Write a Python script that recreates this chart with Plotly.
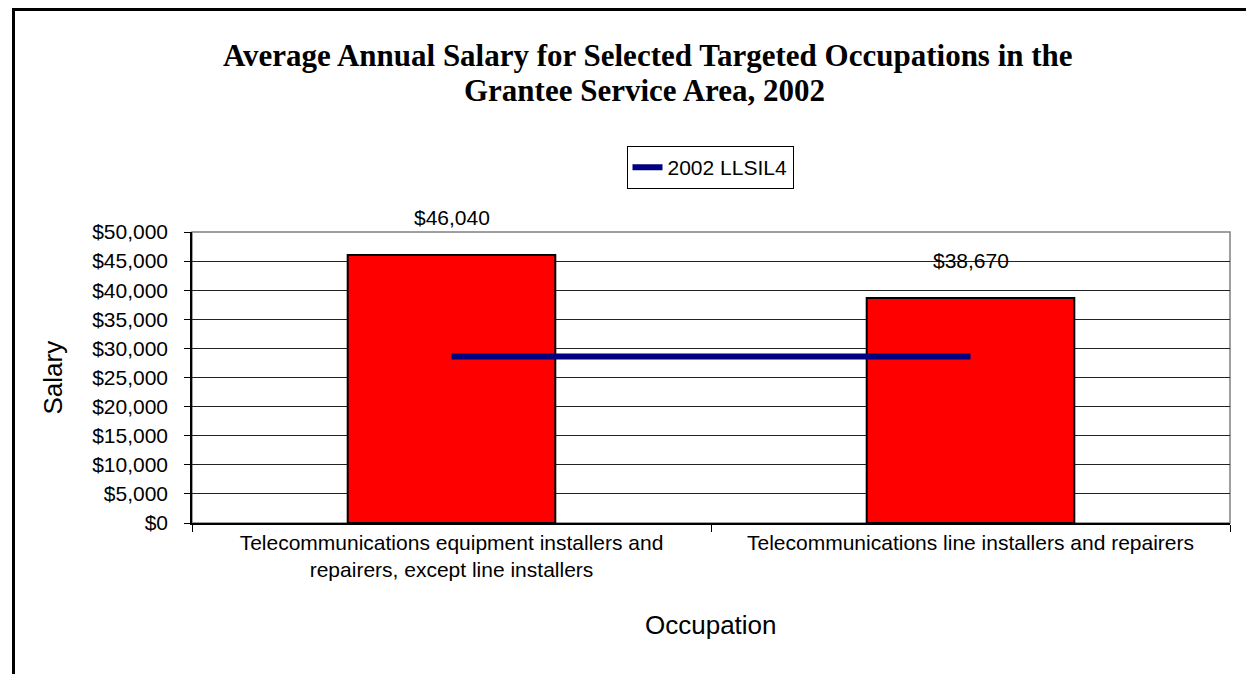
import plotly.graph_objects as go

categories = [
    "Telecommunications equipment installers and<br>repairers, except line installers",
    "Telecommunications line installers and repairers",
]
salaries = [46040, 38670]
salary_labels = ["$46,040", "$38,670"]
llsil_name = "2002 LLSIL4"
llsil_values = [28600, 28600]
y_ticks = [0, 5000, 10000, 15000, 20000, 25000, 30000, 35000, 40000, 45000, 50000]
y_tick_labels = ["$0", "$5,000", "$10,000", "$15,000", "$20,000", "$25,000",
                 "$30,000", "$35,000", "$40,000", "$45,000", "$50,000"]
title_lines = ["Average Annual Salary for Selected Targeted Occupations in the",
               "Grantee Service Area, 2002"]

OFF = 8  # page body margin
W, H = 1254 - OFF, 674 - OFF
L = 192 - OFF
T = 232 - OFF
R = W - (1230 - OFF)
B = H - (523 - OFF)
PW = W - L - R
PH = H - T - B

def px_x(p):
    return (p - OFF - L) / PW

def px_y(p):
    return (H - B - (p - OFF)) / PH

SANS = "Liberation Sans, Arial, sans-serif"
SERIF = "Liberation Serif, Times New Roman, serif"

fig = go.Figure()
fig.add_trace(go.Bar(
    x=categories, y=salaries,
    marker=dict(color="#FF0000", line=dict(color="black", width=2)),
    showlegend=False, hoverinfo="skip",
))
fig.add_trace(go.Scatter(
    x=categories, y=llsil_values, mode="lines", name=llsil_name,
    line=dict(color="#000080", width=6),
))

annotations = []
for c, v, t in zip(categories, salaries, salary_labels):
    annotations.append(dict(
        x=c, y=v, xref="x", yref="y", text=t, showarrow=False,
        yanchor="bottom", yshift=24,
        font=dict(family=SANS, size=21, color="black"),
    ))
annotations.append(dict(
    x=px_x(52), y=0.5, xref="paper", yref="paper", text="Salary",
    textangle=-90, showarrow=False, xanchor="center", yanchor="middle",
    font=dict(family=SANS, size=26, color="black"),
))
annotations.append(dict(
    x=0.5, y=px_y(625), xref="paper", yref="paper", text="Occupation",
    showarrow=False, xanchor="center", yanchor="middle",
    font=dict(family=SANS, size=26, color="black"),
))
for line_text, cx, cy in zip(title_lines, [648, 644], [56, 90]):
    annotations.append(dict(
        x=px_x(cx), y=px_y(cy), xref="paper", yref="paper", text="<b>" + line_text + "</b>",
        showarrow=False, xanchor="center", yanchor="middle",
        font=dict(family=SERIF, size=31, color="black"),
    ))

shapes = [
    dict(type="rect", xref="paper", yref="paper", x0=0, x1=1, y0=0, y1=1,
         line=dict(color="#808080", width=1.5), layer="below"),
    dict(type="line", xref="paper", yref="paper",
         x0=px_x(13.5), x1=px_x(13.5), y0=px_y(9.5), y1=px_y(700),
         line=dict(color="black", width=3)),
    dict(type="line", xref="paper", yref="paper",
         x0=px_x(12), x1=px_x(1280), y0=px_y(9.5), y1=px_y(9.5),
         line=dict(color="black", width=3)),
]

fig.update_layout(
    width=W, height=H, autosize=False,
    margin=dict(l=L, r=R, t=T, b=B, pad=0),
    paper_bgcolor="white", plot_bgcolor="white",
    bargap=0.6,
    legend=dict(
        x=px_x(710), y=px_y(146), xanchor="center", yanchor="top",
        bordercolor="black", borderwidth=1, bgcolor="white",
        font=dict(family=SANS, size=21, color="black"),
    ),
    annotations=annotations,
    shapes=shapes,
    font=dict(family=SANS, size=21, color="black"),
)
fig.update_xaxes(
    type="category", showgrid=False, showline=True, linecolor="black", linewidth=1.5,
    ticks="outside", tickson="boundaries", ticklen=7, tickcolor="black",
    tickfont=dict(family=SANS, size=21, color="black"),
)
fig.update_yaxes(
    range=[0, 50000], tickvals=y_ticks, ticktext=y_tick_labels,
    showgrid=True, gridcolor="#222222", gridwidth=1,
    showline=True, linecolor="black", linewidth=1.5,
    ticks="outside", ticklen=6, tickcolor="black", zeroline=False,
    tickfont=dict(family=SANS, size=21, color="black"),
    ticklabelstandoff=12,
)

fig.write_html("out.html")
